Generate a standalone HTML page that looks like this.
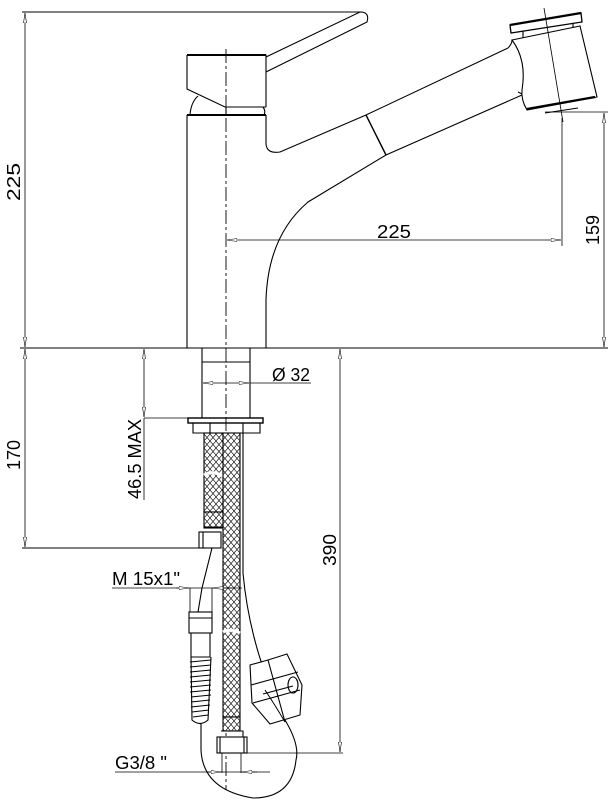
<!DOCTYPE html>
<html><head><meta charset="utf-8"><style>
html,body{margin:0;padding:0;background:#fff}
svg{display:block}
text{font-family:"Liberation Sans",sans-serif;fill:#000}
</style></head><body>
<svg width="611" height="800" viewBox="0 0 611 800" xmlns="http://www.w3.org/2000/svg">
<defs>
<pattern id="mesh" width="6" height="7" patternUnits="userSpaceOnUse">
<rect width="6" height="7" fill="#fff"/>
<path d="M0 0L6 7M6 0L0 7" stroke="#000" stroke-width="0.6"/>
</pattern>
<marker id="a" markerWidth="10" markerHeight="6" refX="10" refY="3" orient="auto-start-reverse" markerUnits="userSpaceOnUse">
<path d="M0 1.5L10 3L0 4.5Z" fill="#fff" stroke="#000" stroke-width="0.6"/>
</marker>
</defs>
<g fill="none" stroke="#000" stroke-width="1.1">
<line x1="22" y1="12" x2="362" y2="12" stroke-width="0.9"/>
<line x1="20" y1="348" x2="608" y2="348" stroke-width="1"/>
<line x1="25" y1="13" x2="25" y2="347" stroke-width="0.8" marker-start="url(#a)" marker-end="url(#a)"/>
<line x1="226" y1="49" x2="226" y2="790" stroke-width="0.9" stroke-dasharray="14,3,3,3"/>
<path d="M187 55H266V107M187 55V89L225 107H266" />
<line x1="187" y1="55" x2="266" y2="55" stroke-width="2"/>
<path d="M226 107V115M263 107Q266 111 264 115M190 115Q191 102 198 96"/>
<path d="M187 115V348M266 115V143Q266 154 280 152L366 115"/>
<line x1="187" y1="115" x2="266" y2="115" stroke-width="2"/>
<path d="M266 348V300Q268 236 308 202L386 155L522 95"/>
<path d="M366 115L386 155" stroke-width="1.4"/>
<path d="M366 115L508 48"/>
<path d="M266 57L360 12Q370 12 367 22L266 72"/>
<path d="M510 25L581 13L582 22L511 33Z" stroke-width="1.3"/>
<line x1="510" y1="25" x2="581" y2="13" stroke-width="2.2"/>
<path d="M523 31L523 38M573 23L573 28"/>
<path d="M512 40L580 26L597 97L527 110Q521 100 522 90Q527 60 512 40Z"/>
<path d="M508 48Q512 44 512 40M518 92L522 94"/>
<path d="M527 109L595 97" stroke-width="2.2"/>
<path d="M545 113L578 108"/>
<line x1="544" y1="8" x2="563" y2="122" stroke-width="0.8"/>
<line x1="227" y1="240" x2="561" y2="240" stroke-width="0.8" marker-start="url(#a)" marker-end="url(#a)"/>
<line x1="562" y1="118" x2="562" y2="246" stroke-width="0.8"/>
<line x1="545" y1="112" x2="608" y2="112" stroke-width="0.8"/>
<line x1="604" y1="113" x2="604" y2="347" stroke-width="0.8" marker-start="url(#a)" marker-end="url(#a)"/>
<path d="M202 348V418M250 348V418M202 362H250"/>
<line x1="203" y1="383" x2="249" y2="383" stroke-width="0.8" marker-start="url(#a)" marker-end="url(#a)"/>
<line x1="250" y1="383" x2="311" y2="383" stroke-width="0.8"/>
<rect x="188" y="418" width="75" height="5" stroke-width="1.4"/>
<path d="M193 423V433H260V423M210 423V433M243 423V433"/>
<rect x="204" y="433" width="19" height="79" fill="url(#mesh)" stroke-width="1.1"/>
<path d="M204 475Q213 470 223 476" stroke="#fff" stroke-width="3"/>
<rect x="204" y="512" width="19" height="16" fill="url(#mesh)"/>
<path d="M204 512H223M204 527H223"/>
<rect x="199" y="532" width="22" height="16" fill="#fff"/>
<line x1="203" y1="532" x2="203" y2="548"/>
<rect x="223" y="433" width="17" height="284" fill="url(#mesh)"/>
<path d="M223 632Q231 628 240 633" stroke="#fff" stroke-width="3"/>
<rect x="223" y="717" width="17" height="14" fill="url(#mesh)"/>
<rect x="217" y="737" width="30" height="16" fill="#fff"/>
<path d="M220 737V753M244 737V753M221 731H243V737"/>
<path d="M243 433V573Q250 650 285 720Q300 745 296 760Q292 798 253 798Q203 790 201 750V723"/>
<path d="M212 548L202 588L198 612"/>
<rect x="189" y="612" width="23" height="21"/>
<path d="M189 618H212"/>
<path d="M191 633H210V657H191Z"/>
<path d="M191 657L192 720Q200 727 208 720L211 657"/>
<g stroke-width="1">
<path d="M190 662L211 660M190 667L211 665M190 672L211 670M190 677L211 675M190 682L211 680M190 687L211 685M190 692L211 690M191 697L211 695M191 702L210 700M191 707L210 705M192 712L209 710M193 717L208 715"/>
</g>
<path d="M190 588V612M212 588V612" stroke-width="0.8"/>
<line x1="112" y1="588" x2="242" y2="588" stroke-width="0.8"/>
<line x1="176" y1="588" x2="189" y2="588" stroke-width="0.8" marker-end="url(#a)"/>
<line x1="232" y1="588" x2="213" y2="588" stroke-width="0.8" marker-end="url(#a)"/>
<line x1="25" y1="349" x2="25" y2="547" stroke-width="0.8" marker-start="url(#a)" marker-end="url(#a)"/>
<line x1="22" y1="548" x2="199" y2="548" stroke-width="0.9"/>
<line x1="144" y1="349" x2="144" y2="417" stroke-width="0.8" marker-start="url(#a)" marker-end="url(#a)"/>
<line x1="144" y1="418" x2="188" y2="418" stroke-width="0.8"/>
<line x1="144" y1="418" x2="144" y2="500" stroke-width="0.8"/>
<line x1="340" y1="349" x2="340" y2="752" stroke-width="0.8" marker-start="url(#a)" marker-end="url(#a)"/>
<line x1="247" y1="753" x2="343" y2="753" stroke-width="0.8"/>
<path d="M222 753V773M241 753V773" stroke-width="0.8"/>
<line x1="115" y1="772" x2="270" y2="772" stroke-width="0.8"/>
<line x1="206" y1="772" x2="221" y2="772" stroke-width="0.8" marker-end="url(#a)"/>
<line x1="257" y1="772" x2="242" y2="772" stroke-width="0.8" marker-end="url(#a)"/>
<path d="M250 665L268 660L287 654L302 685L300 715L270 724L252 703Z" fill="#fff"/>
<path d="M268 660L285 722M251 685L298 672M253 703L300 690"/>
<ellipse cx="293" cy="685" rx="5" ry="8"/>
<path d="M263 694L293 686"/>
<path d="M265 690Q275 705 285 722" stroke-width="1"/>
</g>
<g font-size="18">
<text transform="translate(20,182) rotate(-90)" text-anchor="middle" textLength="38" lengthAdjust="spacingAndGlyphs">225</text>
<text x="394" y="238" text-anchor="middle" textLength="34" lengthAdjust="spacingAndGlyphs">225</text>
<text transform="translate(599,230) rotate(-90)" text-anchor="middle" textLength="30" lengthAdjust="spacingAndGlyphs">159</text>
<text x="272" y="381" textLength="38" lengthAdjust="spacingAndGlyphs">Ø 32</text>
<text transform="translate(20,455) rotate(-90)" text-anchor="middle" textLength="30" lengthAdjust="spacingAndGlyphs">170</text>
<text transform="translate(141,459) rotate(-90)" text-anchor="middle" textLength="80" lengthAdjust="spacingAndGlyphs">46.5 MAX</text>
<text transform="translate(336,550) rotate(-90)" text-anchor="middle" textLength="32" lengthAdjust="spacingAndGlyphs">390</text>
<text x="112" y="585" textLength="68" lengthAdjust="spacingAndGlyphs">M  15x1"</text>
<text x="115" y="769" textLength="52" lengthAdjust="spacingAndGlyphs">G3/8 "</text>
</g>
</svg>
</body></html>
